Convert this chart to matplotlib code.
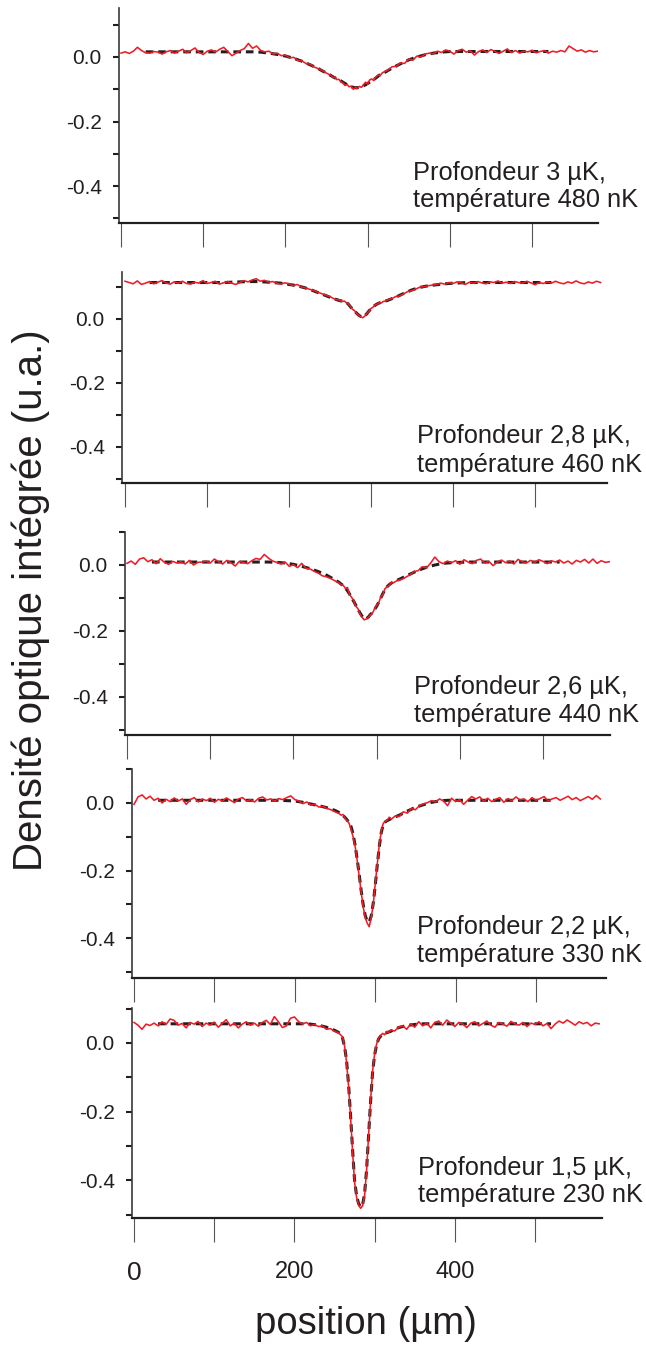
import numpy as np
import matplotlib
matplotlib.use('Agg')
import matplotlib.pyplot as plt

# sampling grids (µm): measured profile and fitted profile
red_x = np.r_[np.arange(0, 255, 5), np.arange(255, 320, 2.5), np.arange(320, 585, 5)]
fit_x = np.r_[np.arange(30, 255, 10), np.arange(255, 320, 2.5), np.arange(320, 530, 10)]

depths = ['3', '2,8', '2,6', '2,2', '1,5']
temperatures = ['480', '460', '440', '330', '230']

# panel 1 : 3 µK / 480 nK
red_1 = [0.012, 0.016, 0.011, 0.018, 0.03, 0.02, 0.013, 0.012, 0.017, 0.015,
         0.009, 0.016, 0.02, 0.012, 0.018, 0.024, 0.013, 0.02, 0.028, 0.014,
         0.008, 0.018, 0.022, 0.015, 0.024, 0.03, 0.017, 0.004, 0.012, 0.02,
         0.026, 0.042, 0.027, 0.034, 0.02, 0.016, 0.018, 0.009, 0.012, 0.004,
         0.006, -0.003, -0.001, -0.01, -0.012, -0.02, -0.022, -0.031, -0.036, -0.042,
         -0.05, -0.056, -0.063, -0.062, -0.07, -0.069, -0.077, -0.08, -0.088, -0.085,
         -0.092, -0.09, -0.1, -0.094, -0.098, -0.091, -0.094, -0.086, -0.078, -0.084,
         -0.071, -0.068, -0.073, -0.062, -0.056, -0.058, -0.05, -0.046, -0.04, -0.03,
         -0.029, -0.018, -0.02, -0.006, -0.01, 0.003, 0.0, 0.009, 0.012, 0.01,
         0.018, 0.014, 0.022, 0.018, 0.009, 0.02, 0.024, 0.015, 0.019, 0.006,
         0.017, 0.022, 0.014, 0.023, 0.017, 0.011, 0.018, 0.025, 0.014, 0.02,
         0.012, 0.018, 0.016, 0.021, 0.013, 0.017, 0.02, 0.012, 0.018, 0.015,
         0.02, 0.016, 0.034, 0.026, 0.018, 0.022, 0.015, 0.02, 0.016, 0.018]
fit_1 = [0.016, 0.016, 0.016, 0.016, 0.016, 0.016, 0.016, 0.016, 0.016, 0.016,
         0.016, 0.016, 0.016, 0.016, 0.015, 0.012, 0.008, 0.003, -0.004, -0.013,
         -0.024, -0.036, -0.05, -0.057, -0.061, -0.064, -0.068, -0.071, -0.074, -0.078,
         -0.082, -0.086, -0.089, -0.092, -0.094, -0.095, -0.095, -0.094, -0.092, -0.089,
         -0.086, -0.082, -0.078, -0.074, -0.07, -0.065, -0.06, -0.055, -0.052, -0.049,
         -0.034, -0.021, -0.009, 0.0, 0.007, 0.012, 0.015, 0.017, 0.017, 0.017,
         0.017, 0.017, 0.017, 0.017, 0.017, 0.017, 0.017, 0.017, 0.017, 0.017]

# panel 2 : 2,8 µK / 460 nK
red_2 = [0.118, 0.114, 0.11, 0.119, 0.108, 0.112, 0.117, 0.11, 0.115, 0.12,
         0.113, 0.109, 0.116, 0.112, 0.118, 0.111, 0.109, 0.115, 0.112, 0.12,
         0.111, 0.114, 0.118, 0.109, 0.113, 0.117, 0.112, 0.108, 0.114, 0.12,
         0.116, 0.122, 0.126, 0.118, 0.121, 0.115, 0.117, 0.112, 0.109, 0.113,
         0.11, 0.104, 0.108, 0.1, 0.097, 0.093, 0.089, 0.084, 0.079, 0.074,
         0.07, 0.063, 0.06, 0.061, 0.057, 0.055, 0.056, 0.051, 0.047, 0.039,
         0.03, 0.026, 0.017, 0.012, 0.007, 0.004, 0.009, 0.018, 0.024, 0.033,
         0.037, 0.044, 0.046, 0.051, 0.05, 0.055, 0.056, 0.06, 0.063, 0.07,
         0.072, 0.079, 0.086, 0.089, 0.094, 0.1, 0.101, 0.104, 0.106, 0.108,
         0.112, 0.109, 0.114, 0.111, 0.116, 0.113, 0.108, 0.115, 0.112, 0.117,
         0.113, 0.11, 0.116, 0.114, 0.119, 0.112, 0.115, 0.111, 0.117, 0.114,
         0.112, 0.118, 0.113, 0.107, 0.114, 0.111, 0.116, 0.112, 0.118, 0.113,
         0.11, 0.116, 0.112, 0.119, 0.113, 0.11, 0.116, 0.112, 0.118, 0.114]
fit_2 = [0.114, 0.114, 0.114, 0.114, 0.114, 0.114, 0.114, 0.114, 0.114, 0.114,
         0.115, 0.116, 0.117, 0.117, 0.116, 0.114, 0.112, 0.108, 0.104, 0.097,
         0.088, 0.078, 0.068, 0.063, 0.061, 0.059, 0.057, 0.056, 0.054, 0.052,
         0.046, 0.038, 0.031, 0.025, 0.018, 0.012, 0.008, 0.006, 0.01, 0.017,
         0.025, 0.032, 0.038, 0.043, 0.047, 0.05, 0.052, 0.054, 0.056, 0.058,
         0.068, 0.08, 0.091, 0.099, 0.104, 0.107, 0.11, 0.112, 0.113, 0.114,
         0.114, 0.114, 0.114, 0.114, 0.114, 0.114, 0.114, 0.114, 0.114, 0.114]

# panel 3 : 2,6 µK / 440 nK
red_3 = [0.005, 0.012, 0.002, 0.018, 0.022, 0.01, 0.016, 0.004, 0.019, 0.008,
         0.002, 0.011, 0.006, 0.01, 0.003, 0.014, 0.0, 0.008, 0.009, 0.012,
         0.006, 0.018, 0.01, 0.003, 0.014, 0.007, -0.003, 0.011, 0.008, 0.004,
         0.013, 0.02, 0.017, 0.032, 0.021, 0.012, 0.008, 0.003, 0.009, -0.004,
         0.001, -0.008, 0.005, -0.01, -0.012, -0.019, -0.025, -0.033, -0.036, -0.041,
         -0.048, -0.055, -0.06, -0.062, -0.071, -0.068, -0.09, -0.098, -0.108, -0.125,
         -0.132, -0.148, -0.158, -0.166, -0.164, -0.16, -0.151, -0.146, -0.133, -0.122,
         -0.115, -0.097, -0.09, -0.072, -0.066, -0.062, -0.053, -0.054, -0.047, -0.044,
         -0.037, -0.03, -0.02, -0.017, -0.005, -0.009, 0.006, 0.024, 0.01, 0.004,
         0.012, 0.007, 0.013, 0.002, 0.016, 0.009, 0.004, 0.014, 0.018, 0.006,
         0.011, -0.002, 0.009, 0.015, 0.007, 0.012, 0.003, 0.017, 0.01, 0.006,
         0.014, 0.008, 0.016, 0.011, 0.004, 0.013, 0.009, 0.015, 0.006, 0.012,
         0.003, 0.014, 0.009, 0.017, 0.006, 0.018, 0.005, 0.013, 0.008, 0.01]
fit_3 = [0.009, 0.009, 0.009, 0.009, 0.009, 0.009, 0.009, 0.009, 0.009, 0.009,
         0.009, 0.009, 0.009, 0.009, 0.009, 0.008, 0.006, 0.002, -0.004, -0.011,
         -0.02, -0.031, -0.045, -0.053, -0.058, -0.063, -0.07, -0.078, -0.088, -0.099,
         -0.11, -0.122, -0.134, -0.145, -0.155, -0.162, -0.163, -0.158, -0.15, -0.144,
         -0.135, -0.125, -0.113, -0.1, -0.087, -0.075, -0.066, -0.06, -0.055, -0.052,
         -0.04, -0.028, -0.016, -0.007, 0.0, 0.005, 0.007, 0.008, 0.009, 0.009,
         0.009, 0.009, 0.009, 0.009, 0.009, 0.009, 0.009, 0.009, 0.009, 0.009]

# panel 4 : 2,2 µK / 330 nK
red_4 = [-0.004, 0.018, 0.024, 0.012, 0.02, 0.008, 0.014, 0.0, 0.011, 0.004,
         0.015, 0.006, 0.012, -0.004, 0.01, 0.016, 0.003, 0.012, 0.007, 0.014,
         0.002, 0.011, 0.006, 0.015, 0.008, 0.001, 0.012, 0.016, 0.006, 0.01,
         0.003, 0.014, 0.018, 0.009, 0.012, 0.006, 0.013, 0.01, 0.016, 0.021,
         0.01, 0.006, -0.002, 0.003, -0.006, -0.004, -0.012, -0.01, -0.016, -0.02,
         -0.026, -0.031, -0.036, -0.034, -0.046, -0.052, -0.06, -0.078, -0.1, -0.128,
         -0.168, -0.215, -0.262, -0.306, -0.338, -0.355, -0.366, -0.34, -0.3, -0.24,
         -0.182, -0.126, -0.084, -0.06, -0.055, -0.051, -0.042, -0.048, -0.038, -0.04,
         -0.026, -0.03, -0.016, -0.02, -0.008, -0.003, 0.001, 0.007, 0.003, 0.012,
         0.006, -0.008, 0.014, 0.004, 0.01, -0.004, 0.008, 0.019, 0.012, 0.018,
         0.006, 0.014, 0.004, 0.011, 0.016, 0.002, 0.013, 0.007, 0.018, 0.009,
         0.012, 0.004, 0.016, 0.008, 0.013, 0.019, 0.006, 0.012, 0.016, 0.008,
         0.014, 0.02, 0.01, 0.016, 0.007, 0.013, 0.019, 0.011, 0.022, 0.012]
fit_4 = [0.008, 0.008, 0.008, 0.008, 0.008, 0.008, 0.008, 0.008, 0.008, 0.008,
         0.008, 0.008, 0.008, 0.008, 0.008, 0.008, 0.007, 0.006, 0.002, -0.003,
         -0.008, -0.014, -0.022, -0.028, -0.032, -0.037, -0.043, -0.05, -0.058, -0.07,
         -0.092, -0.125, -0.165, -0.21, -0.258, -0.3, -0.332, -0.35, -0.352, -0.335,
         -0.298, -0.245, -0.185, -0.13, -0.088, -0.063, -0.056, -0.052, -0.049, -0.046,
         -0.036, -0.024, -0.013, -0.005, 0.002, 0.006, 0.008, 0.008, 0.008, 0.008,
         0.008, 0.008, 0.008, 0.008, 0.008, 0.008, 0.008, 0.008, 0.008, 0.008]

# panel 5 : 1,5 µK / 230 nK
red_5 = [0.06, 0.052, 0.04, 0.055, 0.051, 0.058, 0.05, 0.062, 0.054, 0.07,
         0.066, 0.052, 0.057, 0.044, 0.06, 0.055, 0.063, 0.048, 0.058, 0.052,
         0.061, 0.046, 0.057, 0.068, 0.05, 0.058, 0.044, 0.055, 0.062, 0.052,
         0.058, 0.049, 0.06, 0.066, 0.054, 0.077, 0.062, 0.045, 0.05, 0.072,
         0.076, 0.063, 0.055, 0.06, 0.05, 0.054, 0.048, 0.05, 0.04, 0.042,
         0.034, 0.03, 0.024, 0.018, -0.008, -0.055, -0.125, -0.215, -0.315, -0.405,
         -0.45, -0.472, -0.482, -0.475, -0.444, -0.372, -0.272, -0.168, -0.082, -0.032,
         -0.003, 0.014, 0.022, 0.028, 0.024, 0.034, 0.03, 0.038, 0.035, 0.046,
         0.05, 0.04, 0.056, 0.046, 0.062, 0.05, 0.058, 0.044, 0.06, 0.064,
         0.052, 0.067, 0.058, 0.048, 0.06, 0.055, 0.045, 0.058, 0.062, 0.05,
         0.057, 0.064, 0.052, 0.046, 0.06, 0.055, 0.049, 0.063, 0.056, 0.052,
         0.06, 0.048, 0.058, 0.054, 0.062, 0.05, 0.057, 0.042, 0.055, 0.064,
         0.058, 0.067, 0.06, 0.052, 0.062, 0.056, 0.06, 0.05, 0.058, 0.056]
fit_5 = [0.056, 0.056, 0.056, 0.056, 0.056, 0.056, 0.056, 0.056, 0.056, 0.056,
         0.056, 0.056, 0.056, 0.056, 0.056, 0.056, 0.056, 0.056, 0.056, 0.055,
         0.052, 0.046, 0.037, 0.031, 0.026, 0.015, -0.01, -0.05, -0.12, -0.21,
         -0.31, -0.4, -0.445, -0.468, -0.478, -0.472, -0.44, -0.37, -0.27, -0.17,
         -0.085, -0.035, -0.005, 0.012, 0.02, 0.025, 0.028, 0.03, 0.032, 0.034,
         0.045, 0.051, 0.054, 0.056, 0.056, 0.056, 0.056, 0.056, 0.056, 0.056,
         0.056, 0.056, 0.056, 0.056, 0.056, 0.056, 0.056, 0.056, 0.056, 0.056]

reds = [red_1, red_2, red_3, red_4, red_5]
fits = [fit_1, fit_2, fit_3, fit_4, fit_5]

W, H = 646, 1345
# pixel frame of each panel: left, right, top, bottom, px of x=0, px per 100 µm, px of y=0, px per 0.1
frames = [
    (119, 598, 8, 223, 121, 82.2, 57, 32.3),
    (122, 607, 272, 483, 125, 82.0, 319, 32.0),
    (125, 610, 532, 735, 127, 83.2, 565, 33.0),
    (132, 606, 769, 978, 134, 80.4, 803, 33.8),
    (132, 602, 1008, 1218, 134, 80.2, 1043, 34.3),
]
# annotation: left px, baseline of line 1, baseline of line 2
notes = [(413, 180, 207), (417, 443, 472), (414, 694, 722), (417, 934, 962), (418, 1175, 1202)]

plt.rcParams['font.family'] = ['Liberation Sans', 'DejaVu Sans']
narrow = ['DejaVu Sans Condensed', 'Liberation Sans Narrow', 'Liberation Sans']
ink = '#231f20'

fig = plt.figure(figsize=(W / 100, H / 100), dpi=100)

for i, (l, r, t, b, x0, sx, y0, sy) in enumerate(frames):
    ax = fig.add_axes([l / W, 1 - b / H, (r - l) / W, (b - t) / H])
    ax.set_xlim((l - x0) / sx * 100, (r - x0) / sx * 100)
    ax.set_ylim(-(b - y0) / sy * 0.1, (y0 - t) / sy * 0.1)

    ax.plot(fit_x, fits[i], color=ink, lw=2.2, dashes=(2.5, 1.6), zorder=2)
    ax.plot(red_x, reds[i], color='#ee1c25', lw=1.15, zorder=3)

    ax.spines['top'].set_visible(False)
    ax.spines['right'].set_visible(False)
    ax.spines['left'].set_linewidth(1.2)
    ax.spines['left'].set_color('#3a3a3a')
    ax.spines['bottom'].set_linewidth(1.6)
    ax.spines['bottom'].set_color(ink)

    ax.set_yticks([0.0, -0.2, -0.4])
    ax.set_yticklabels(['0.0', '-0.2', '-0.4'], family=narrow, fontsize=15,
                       fontstretch='condensed', color=ink)
    ax.set_yticks([0.1, -0.1, -0.3, -0.5], minor=True)
    ax.tick_params(axis='y', which='both', direction='out', length=4.5, width=1.5,
                   color=ink, pad=8)

    ax.set_xticks([0, 100, 200, 300, 400, 500])
    ax.tick_params(axis='x', direction='out', length=17, width=0.8, color='#555555', pad=14)
    if i == 4:
        ax.set_xticklabels(['0', '', '200', '', '400', ''], fontsize=17, color=ink)
        lab0 = ax.get_xticklabels()[0]
        lab0.set_family(narrow)
        lab0.set_fontstretch('condensed')
        lab0.set_fontsize(19)
    else:
        ax.set_xticklabels([])

    nx, b1, b2 = notes[i]
    fig.text(nx / W, 1 - b1 / H, 'Profondeur %s µK,' % depths[i], fontsize=18.3,
             color=ink, ha='left', va='baseline')
    fig.text(nx / W, 1 - b2 / H, 'température %s nK' % temperatures[i], fontsize=18.3,
             color=ink, ha='left', va='baseline')

fig.text(31 / W, 1 - 600 / H, 'Densité optique intégrée (u.a.)', rotation=90,
         fontsize=29, color=ink, ha='center', va='center')
fig.text(366 / W, 1 - 1324 / H, 'position (µm)', fontsize=27.5, color=ink,
         ha='center', va='center')

fig.savefig('out.png', dpi=100)
